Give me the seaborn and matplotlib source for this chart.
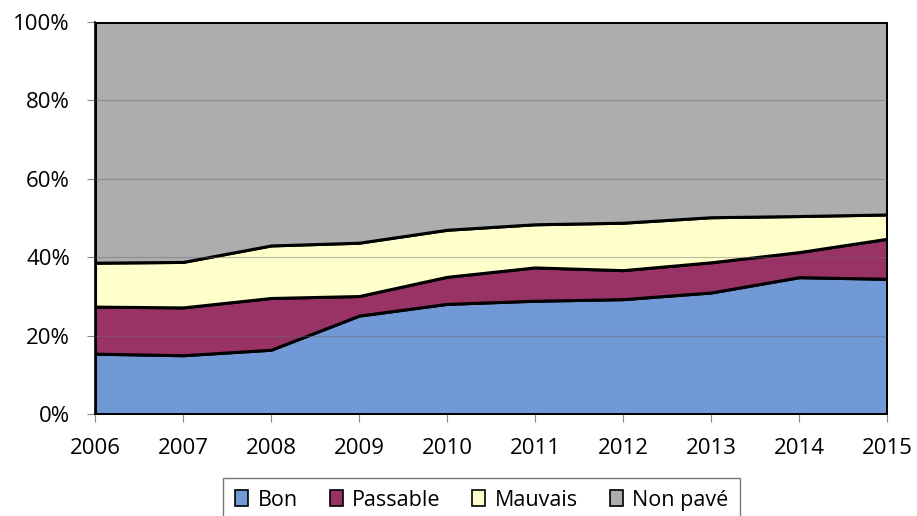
import numpy as np
import matplotlib
matplotlib.use("Agg")
import matplotlib.pyplot as plt
import seaborn as sns

# data (share of network, %)
years = [2006, 2007, 2008, 2009, 2010, 2011, 2012, 2013, 2014, 2015]
bon = [15.4, 15.0, 16.4, 25.1, 28.1, 28.9, 29.3, 31.0, 34.9, 34.5]
passable = [12.0, 12.2, 13.2, 5.0, 6.9, 8.5, 7.4, 7.7, 6.4, 10.2]
mauvais = [11.2, 11.6, 13.4, 13.6, 12.0, 11.0, 12.1, 11.5, 9.2, 6.2]
non_pave = [61.4, 61.2, 57.0, 56.3, 53.0, 51.6, 51.2, 49.8, 49.5, 49.1]
labels = ["Bon", "Passable", "Mauvais", "Non pavé"]
colors = ["#7199d5", "#993366", "#ffffcc", "#adadad"]

sns.set_style("white")
plt.rcParams['font.family'] = ['Open Sans', 'DejaVu Sans']
plt.rcParams['text.color'] = 'black'
plt.rcParams['xtick.color'] = 'black'
plt.rcParams['ytick.color'] = 'black'

fig = plt.figure(figsize=(9.17, 5.16), dpi=100)
ax = fig.add_axes([0.1036, 0.1976, 0.8637, 0.7598])

ax.stackplot(years, bon, passable, mauvais, non_pave, labels=labels,
             colors=colors, edgecolor="black", linewidth=2.2, zorder=2)

# gridlines show through the areas
for v in [20, 40, 60, 80]:
    ax.axhline(v, color="#6a6a6a", linewidth=0.8, alpha=0.45, zorder=3)

ax.set_xlim(years[0], years[-1])
ax.set_ylim(0, 100)
ax.set_xticks(years)
ax.set_yticks(range(0, 101, 20))
ax.set_yticklabels([f"{v}%" for v in range(0, 101, 20)])
ax.tick_params(axis="both", labelsize=16, length=6, width=0.8,
               color="#888888", labelcolor="black", direction="out",
               left=True, bottom=True)
ax.tick_params(axis="x", pad=11)
ax.tick_params(axis="y", pad=12)
for s in ["top", "right"]:
    ax.spines[s].set_visible(False)
for s in ["left", "bottom"]:
    ax.spines[s].set_color("black")
    ax.spines[s].set_linewidth(1.2)

leg = fig.legend(loc="center", bbox_to_anchor=(0.5256, 0.031), ncol=4,
                 fontsize=15.5, frameon=True, fancybox=False, borderpad=0.55,
                 borderaxespad=0, handlelength=0.6, handleheight=0.75,
                 handletextpad=0.45, columnspacing=1.47, edgecolor="#555555")
leg.get_frame().set_linewidth(1.0)
for h in leg.legend_handles:
    h.set_linewidth(1.2)

fig.savefig("out.png", dpi=100)
